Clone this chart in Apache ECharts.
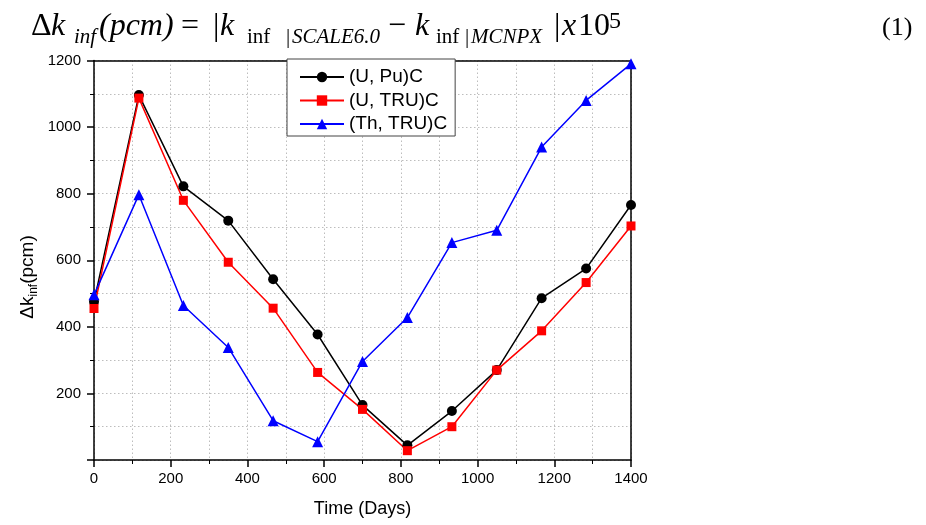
<!DOCTYPE html>
<html>
<head>
<meta charset="utf-8">
<script src="https://cdn.jsdelivr.net/npm/echarts@6/dist/echarts.min.js"></script>
<style>
  html, body { margin: 0; padding: 0; background: #fff; }
  #chart { width: 926px; height: 525px; }
</style>
</head>
<body>
<div id="chart"></div>
<script>
// Burnup time (days)
const days = [0, 117, 233, 350, 467, 583, 700, 817, 933, 1050, 1167, 1283, 1400];

// Δk_inf (pcm) between SCALE 6.0 and MCNPX for each fuel
const seriesNames = ['(U, Pu)C', '(U, TRU)C', '(Th, TRU)C'];
const uPuC  = [475, 1096, 822, 719, 543, 377, 165, 44, 147, 270, 486, 575, 766];
const uTruC = [455, 1087, 780, 594, 456, 263, 152, 28, 100, 270, 388, 533, 703];
const thTruC = [496, 797, 464, 338, 118, 55, 296, 428, 653, 690, 940, 1080, 1190];

// Axis ticks
const xTicks = { min: 0, max: 1400, step: 200 };
const yTicks = { min: 0, max: 1200, step: 200 };

const pairs = (ys) => days.map((d, i) => [d, ys[i]]);

// Equation line above the plot, set piece by piece
const SERIF = '"Liberation Serif", "DejaVu Serif", serif';
const MAIN = 32, SUB = 21, SUPS = 24;
const BASE = 37, SUB_BASE = 44, SUP_BASE = 30;
function piece(text, x, base, size, italic) {
  return {
    type: 'text', x: x, y: base - size * 0.33,
    style: {
      text: text, fill: '#000',
      fontFamily: SERIF, fontSize: size, fontStyle: italic ? 'italic' : 'normal',
      align: 'left', verticalAlign: 'middle'
    }
  };
}
const equation = [
  piece('Δ', 31, BASE, MAIN, false),
  piece('k', 51, BASE, MAIN, true),
  piece('inf', 74, SUB_BASE, SUB, true),
  piece('(pcm)', 99, BASE, MAIN, true),
  piece('=', 181, BASE, MAIN, false),
  piece('|', 213, BASE, MAIN, false),
  piece('k', 220, BASE, MAIN, true),
  piece('inf', 247, SUB_BASE, SUB, false),
  piece('|', 286, SUB_BASE, SUB, false),
  piece('SCALE6.0', 292, SUB_BASE, SUB, true),
  piece('−', 388, BASE, MAIN, false),
  piece('k', 415, BASE, MAIN, true),
  piece('inf', 436, SUB_BASE, SUB, false),
  piece('|', 465, SUB_BASE, SUB, false),
  piece('MCNPX', 471, SUB_BASE, SUB, true),
  piece('|', 554, BASE, MAIN, false),
  piece('x', 562, BASE, MAIN, true),
  piece('10', 578, BASE, MAIN, false),
  piece('5', 609, SUP_BASE, SUPS, false),
  piece('(1)', 882, BASE, 26, false)
];

const SANS = '"Liberation Sans", Arial, sans-serif';
const gridDots = { color: '#bdbdbd', width: 1, type: [1.5, 2.5] };
const frameLine = { color: '#000', width: 1.5 };

const chart = echarts.init(document.getElementById('chart'));
chart.setOption({
  backgroundColor: '#fff',
  animation: false,
  grid: {
    left: 94, right: 295, top: 60.5, bottom: 65,
    containLabel: false, outerBoundsMode: 'none'
  },
  legend: {
    orient: 'vertical', left: 287, top: 59,
    padding: [8, 8, 2, 12],
    itemGap: 3.5, itemWidth: 44, itemHeight: 13,
    backgroundColor: '#fff', borderColor: '#444', borderWidth: 1,
    textStyle: { fontFamily: SANS, fontSize: 19, color: '#000', lineHeight: 20 },
    data: seriesNames
  },
  xAxis: [
    {
      type: 'value', min: xTicks.min, max: xTicks.max, interval: xTicks.step,
      name: 'Time (Days)', nameLocation: 'middle', nameGap: 40,
      nameTextStyle: { fontFamily: SANS, fontSize: 18, color: '#000' },
      axisLine: { onZero: false, lineStyle: frameLine },
      axisTick: { show: true, length: 7, lineStyle: { color: '#000', width: 1.5 } },
      minorTick: { show: true, splitNumber: 2, length: 4, lineStyle: { color: '#000', width: 1 } },
      axisLabel: { fontFamily: SANS, fontSize: 15, color: '#000', margin: 11, formatter: (v) => String(v) },
      splitLine: { show: true, lineStyle: gridDots },
      minorSplitLine: { show: true, lineStyle: gridDots }
    },
    {
      // top frame edge
      type: 'value', position: 'top', min: xTicks.min, max: xTicks.max,
      axisLine: { show: true, onZero: false, lineStyle: frameLine },
      axisTick: { show: false }, axisLabel: { show: false }, splitLine: { show: false }
    }
  ],
  yAxis: [
    {
      type: 'value', min: yTicks.min, max: yTicks.max, interval: yTicks.step,
      axisLine: { onZero: false, lineStyle: frameLine },
      axisTick: { show: true, length: 7, lineStyle: { color: '#000', width: 1.5 } },
      minorTick: { show: true, splitNumber: 2, length: 4, lineStyle: { color: '#000', width: 1 } },
      axisLabel: {
        fontFamily: SANS, fontSize: 15, color: '#000', margin: 13,
        formatter: (v) => (v === 0 ? '' : String(v))
      },
      splitLine: { show: true, lineStyle: gridDots },
      minorSplitLine: { show: true, lineStyle: gridDots }
    },
    {
      // right frame edge
      type: 'value', position: 'right', min: yTicks.min, max: yTicks.max,
      axisLine: { show: true, onZero: false, lineStyle: frameLine },
      axisTick: { show: false }, axisLabel: { show: false }, splitLine: { show: false }
    }
  ],
  graphic: equation.concat([
    {
      type: 'text', x: 28, y: 277, rotation: Math.PI / 2,
      style: {
        text: '{a|Δk}{b|inf}{a|(pcm)}',
        align: 'center', verticalAlign: 'middle', fill: '#000',
        rich: {
          a: { fontFamily: SANS, fontSize: 19, lineHeight: 24, verticalAlign: 'middle', fill: '#000' },
          b: { fontFamily: SANS, fontSize: 12, lineHeight: 12, verticalAlign: 'bottom', fill: '#000' }
        }
      }
    }
  ]),
  series: [
    {
      name: seriesNames[0], type: 'line', data: pairs(uPuC),
      symbol: 'circle', symbolSize: 10,
      lineStyle: { color: '#000', width: 1.5 },
      itemStyle: { color: '#000' }
    },
    {
      name: seriesNames[1], type: 'line', data: pairs(uTruC),
      symbol: 'rect', symbolSize: 9,
      lineStyle: { color: '#ff0000', width: 1.5 },
      itemStyle: { color: '#ff0000' }
    },
    {
      name: seriesNames[2], type: 'line', data: pairs(thTruC),
      symbol: 'triangle', symbolSize: 11,
      lineStyle: { color: '#0000ff', width: 1.5 },
      itemStyle: { color: '#0000ff' }
    }
  ]
});
</script>
</body>
</html>
